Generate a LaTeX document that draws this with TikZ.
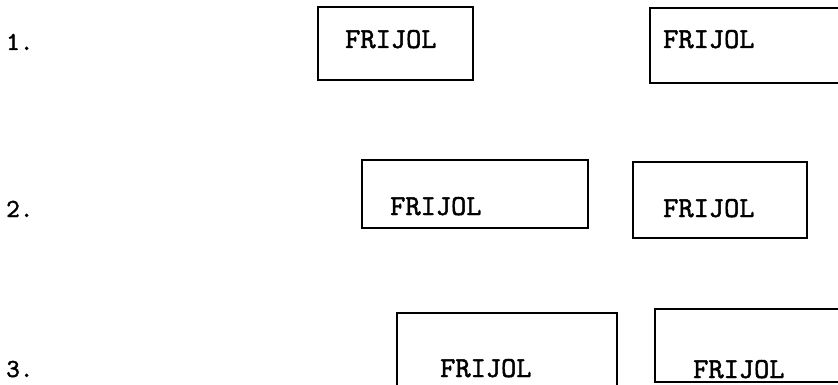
\documentclass[tikz,border=0pt]{standalone}
\usepackage{fontspec}
\newfontfamily\typew{lmmono10-regular.otf}[FakeBold=1.6]
\begin{document}
\begin{tikzpicture}[x=1pt,y=-1pt,
  boxline/.style={draw=black,line width=1.6pt},
  word/.style={anchor=base west,inner sep=0pt,font=\typew\fontsize{29}{29}\selectfont},
  lbl/.style={anchor=base west,inner sep=0pt,font=\typew\fontsize{26}{26}\selectfont}]
\useasboundingbox (0,0) rectangle (838,385);
\fill[white] (0,0) rectangle (838,385);
% labels
\node[lbl] (l1) at (6,50) {1.};
\node[lbl] (l2) at (6,217) {2.};
\node[lbl] (l3) at (6,377) {3.};
% row 1
\draw[boxline] (318,7) rectangle (473,80);
\node[word] (r1a) at (345,48) {FRIJOL};
\draw[boxline] (650,8) rectangle (870,83);
\node[word] (r1b) at (663,48) {FRIJOL};
% row 2
\draw[boxline] (362,160) rectangle (588,228);
\node[word] (r2a) at (390,215) {FRIJOL};
\draw[boxline] (633,162) rectangle (807,238);
\node[word] (r2b) at (663,217) {FRIJOL};
% row 3
\draw[boxline] (397,313) rectangle (617,410);
\node[word] (r3a) at (440,377) {FRIJOL};
\draw[boxline] (655,309) rectangle (870,382);
\node[word] (r3b) at (693,378) {FRIJOL};
\end{tikzpicture}
\end{document}
